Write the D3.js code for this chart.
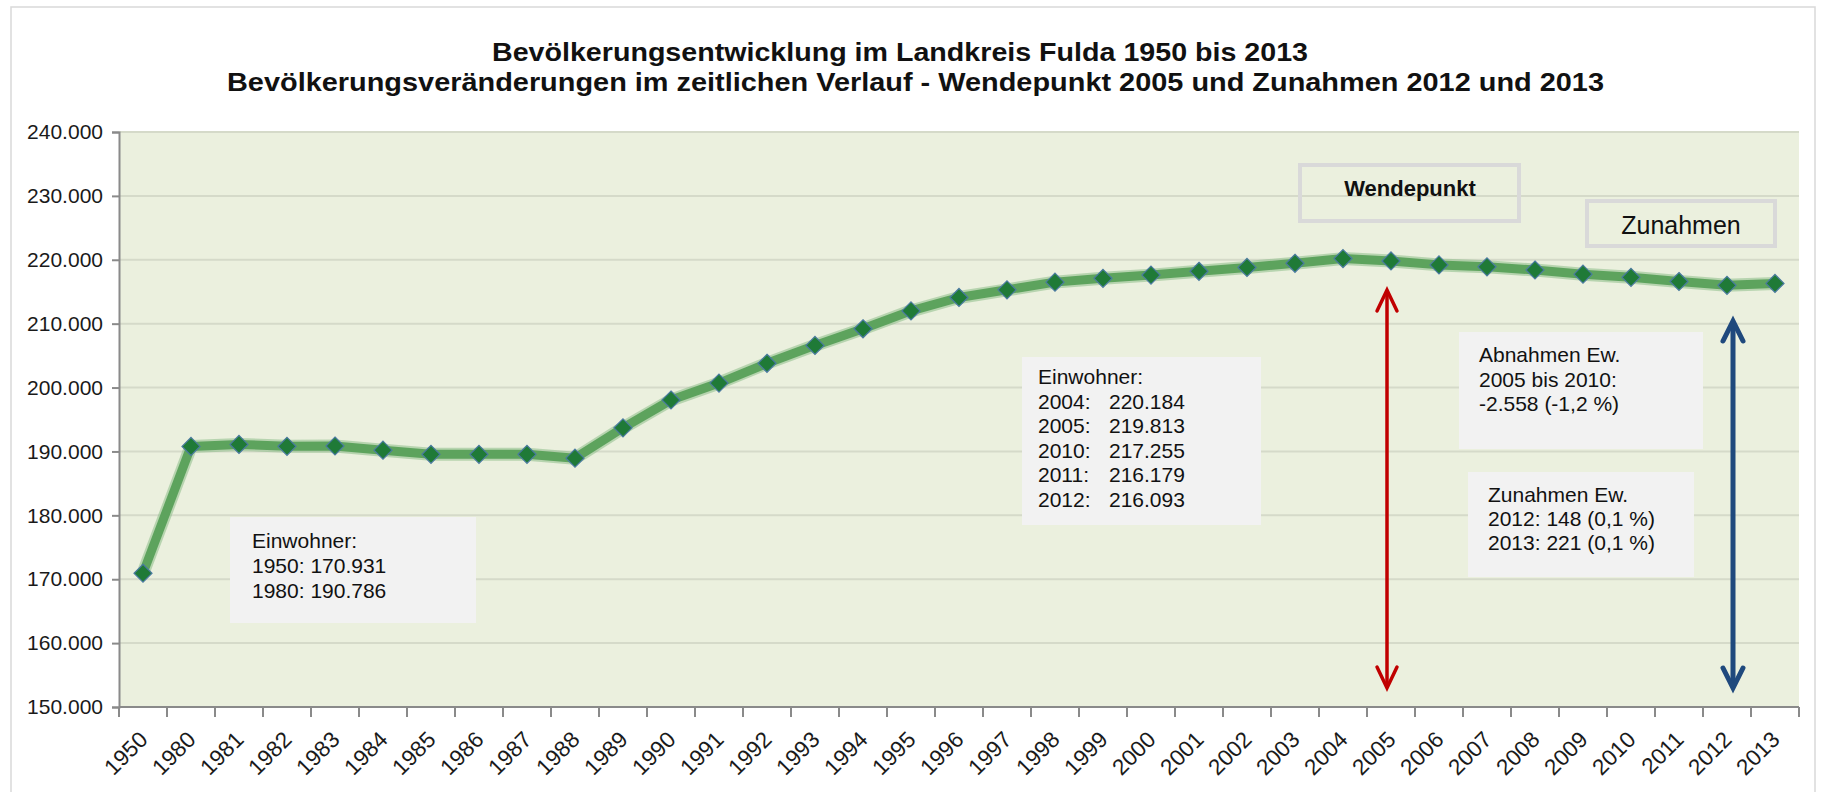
<!DOCTYPE html>
<html>
<head>
<meta charset="utf-8">
<script src="https://cdn.jsdelivr.net/npm/d3@7"></script>
<style>
  body { margin: 0; background: #fff; }
  text { font-family: Arial, "Liberation Sans", sans-serif; }
</style>
</head>
<body>
<div id="chart"></div>
<script>
// Jahre (Kategorien) und Einwohner
const years = ["1950", "1980", "1981", "1982", "1983", "1984", "1985", "1986", "1987", "1988",
  "1989", "1990", "1991", "1992", "1993", "1994", "1995", "1996", "1997", "1998",
  "1999", "2000", "2001", "2002", "2003", "2004", "2005", "2006", "2007", "2008",
  "2009", "2010", "2011", "2012", "2013"];
const population = [170931, 190786, 191100, 190800, 190850, 190200, 189550, 189550, 189550, 188950,
  193700, 198050, 200700, 203800, 206600, 209200, 212000, 214100, 215300, 216500,
  217100, 217600, 218200, 218800, 219450, 220184, 219813, 219200, 218900, 218400,
  217750, 217255, 216600, 216000, 216300];
const yTicks = [150000, 160000, 170000, 180000, 190000, 200000, 210000, 220000, 230000, 240000];

const titleLines = [
  "Bevölkerungsentwicklung im Landkreis Fulda 1950 bis 2013",
  "Bevölkerungsveränderungen im zeitlichen Verlauf - Wendepunkt 2005 und Zunahmen 2012 und 2013"
];
const box1Lines = ["Einwohner:", "1950: 170.931", "1980: 190.786"];
const box2Lines = [["Einwohner:", ""], ["2004:", "220.184"], ["2005:", "219.813"],
  ["2010:", "217.255"], ["2011:", "216.179"], ["2012:", "216.093"]];
const box3Lines = ["Abnahmen Ew.", "2005 bis 2010:", "-2.558 (-1,2 %)"];
const box4Lines = ["Zunahmen Ew.", "2012: 148 (0,1 %)", "2013: 221 (0,1 %)"];

const W = 1823, H = 792;
const margin = { top: 132, right: 24, bottom: 85, left: 119 };

const svg = d3.select("#chart").append("svg")
    .attr("width", W)
    .attr("height", H);

// outer frame
svg.append("rect")
    .attr("x", 11).attr("y", 7)
    .attr("width", 1804).attr("height", 800)
    .attr("fill", "none")
    .attr("stroke", "#d9d9d9")
    .attr("stroke-width", 1.5);

// title
svg.selectAll("text.title")
  .data(titleLines)
  .enter().append("text")
    .attr("class", "title")
    .attr("x", (d, i) => i === 0 ? 492 : 227)
    .attr("y", (d, i) => i === 0 ? 61 : 91)
    .attr("font-size", 25)
    .attr("font-weight", "bold")
    .attr("fill", "#111")
    .attr("textLength", (d, i) => i === 0 ? 816 : 1377)
    .attr("lengthAdjust", "spacingAndGlyphs")
    .text(d => d);

const x = d3.scaleBand()
    .domain(years)
    .range([margin.left, W - margin.right]);

const y = d3.scaleLinear()
    .domain([150000, 240000])
    .range([H - margin.bottom, margin.top]);

// plot area
svg.append("rect")
    .attr("x", margin.left)
    .attr("y", margin.top)
    .attr("width", x.range()[1] - margin.left)
    .attr("height", y(150000) - margin.top)
    .attr("fill", "#ebf0de");

// gridlines
svg.append("g")
  .selectAll("line")
  .data(yTicks.slice(1))
  .enter().append("line")
    .attr("x1", margin.left)
    .attr("x2", x.range()[1])
    .attr("y1", d => y(d))
    .attr("y2", d => y(d))
    .attr("stroke", "#d5dac9")
    .attr("stroke-width", 2);

const fmt = d => d3.format(",")(d).replace(/,/g, ".");

// y axis
const yAxis = svg.append("g")
    .attr("transform", `translate(${margin.left},0)`)
    .call(d3.axisLeft(y).tickValues(yTicks).tickFormat(fmt).tickSize(7).tickPadding(9));
yAxis.select(".domain").attr("stroke", "#8a8a8a").attr("stroke-width", 2);
yAxis.selectAll(".tick line").attr("stroke", "#8a8a8a").attr("stroke-width", 2);
yAxis.selectAll(".tick text")
    .attr("font-size", 21)
    .attr("font-family", "Arial, 'Liberation Sans', sans-serif")
    .attr("fill", "#1a1a1a");

// x axis: ticks on category boundaries
const xAxisG = svg.append("g");
xAxisG.append("line")
    .attr("x1", margin.left).attr("x2", x.range()[1])
    .attr("y1", y(150000)).attr("y2", y(150000))
    .attr("stroke", "#8a8a8a").attr("stroke-width", 2);
const bounds = years.map(d => x(d)).concat([x.range()[1]]);
xAxisG.selectAll("line.tick")
  .data(bounds)
  .enter().append("line")
    .attr("class", "tick")
    .attr("x1", d => d).attr("x2", d => d)
    .attr("y1", y(150000)).attr("y2", y(150000) + 10)
    .attr("stroke", "#8a8a8a").attr("stroke-width", 2);
xAxisG.selectAll("text")
  .data(years)
  .enter().append("text")
    .attr("transform", d => `translate(${x(d) + x.bandwidth() / 2 + 6},${y(150000) + 34}) rotate(-45)`)
    .attr("text-anchor", "end")
    .attr("font-size", 22.5)
    .attr("fill", "#1a1a1a")
    .text(d => d);

// annotation boxes (drawn under the line)
function textBox(bx, by, bw, bh, tx, ty, lines, lh) {
  svg.append("rect")
      .attr("x", bx).attr("y", by).attr("width", bw).attr("height", bh)
      .attr("fill", "#f2f2f2");
  svg.append("g").selectAll("text")
    .data(lines)
    .enter().append("text")
      .attr("x", tx)
      .attr("y", (d, i) => ty + i * lh)
      .attr("font-size", 21)
      .attr("fill", "#111")
      .text(d => d);
}
textBox(230, 517, 246, 106, 252, 548, box1Lines, 25);
textBox(1459, 332, 244, 117, 1479, 362, box3Lines, 24.5);
textBox(1468, 472, 226, 105, 1488, 502, box4Lines, 24);

svg.append("rect")
    .attr("x", 1022).attr("y", 357).attr("width", 239).attr("height", 168)
    .attr("fill", "#f2f2f2");
const b2 = svg.append("g").selectAll("text")
  .data(box2Lines)
  .enter().append("text")
    .attr("y", (d, i) => 384 + i * 24.5)
    .attr("font-size", 21)
    .attr("fill", "#111");
b2.append("tspan").attr("x", 1038).text(d => d[0]);
b2.append("tspan").attr("x", 1109).text(d => d[1]);

// labelled frames
svg.append("rect")
    .attr("x", 1300).attr("y", 165).attr("width", 219).attr("height", 56)
    .attr("fill", "none").attr("stroke", "#d9d9d9").attr("stroke-width", 4);
svg.append("text")
    .attr("x", 1410).attr("y", 196)
    .attr("text-anchor", "middle")
    .attr("font-size", 22)
    .attr("font-weight", "bold")
    .attr("fill", "#111")
    .text("Wendepunkt");
svg.append("rect")
    .attr("x", 1587).attr("y", 201).attr("width", 188).attr("height", 45)
    .attr("fill", "none").attr("stroke", "#d9d9d9").attr("stroke-width", 4);
svg.append("text")
    .attr("x", 1681).attr("y", 234)
    .attr("text-anchor", "middle")
    .attr("font-size", 25)
    .attr("fill", "#111")
    .text("Zunahmen");

// population line
const line = d3.line()
    .x((d, i) => x(years[i]) + x.bandwidth() / 2)
    .y(d => y(d));

svg.append("path")
    .datum(population)
    .attr("d", line)
    .attr("fill", "none")
    .attr("stroke", "#8dbd88")
    .attr("stroke-width", 13)
    .attr("stroke-linejoin", "round")
    .attr("opacity", 0.55);
svg.append("path")
    .datum(population)
    .attr("d", line)
    .attr("fill", "none")
    .attr("stroke", "#5da35d")
    .attr("stroke-width", 9)
    .attr("stroke-linejoin", "round");

svg.append("g").selectAll("path")
  .data(population)
  .enter().append("path")
    .attr("transform", (d, i) => `translate(${x(years[i]) + x.bandwidth() / 2},${y(d)})`)
    .attr("d", "M0,-9L9,0L0,9L-9,0Z")
    .attr("fill", "#1f7a37")
    .attr("stroke", "#4a7aa0")
    .attr("stroke-width", 1.2);

// arrows
const redX = x("2005") + x.bandwidth() / 2 - 4;
const blueX = x("2012") + x.bandwidth() / 2 + 6;
const arrowBottom = y(150000) - 19;

svg.append("line")
    .attr("x1", redX).attr("x2", redX)
    .attr("y1", 290).attr("y2", arrowBottom - 1)
    .attr("stroke", "#c00000").attr("stroke-width", 3.5);
[[290, 1], [arrowBottom, -1]].forEach(([ty, dir]) => {
  svg.append("path")
      .attr("d", `M${redX - 10},${ty + dir * 21}L${redX},${ty}L${redX + 10},${ty + dir * 21}`)
      .attr("fill", "none").attr("stroke", "#c00000").attr("stroke-width", 3.5)
      .attr("stroke-linecap", "round").attr("stroke-linejoin", "miter");
});

svg.append("line")
    .attr("x1", blueX).attr("x2", blueX)
    .attr("y1", 324).attr("y2", arrowBottom - 4)
    .attr("stroke", "#1f497d").attr("stroke-width", 5);
[[321, 1], [arrowBottom, -1]].forEach(([ty, dir]) => {
  svg.append("path")
      .attr("d", `M${blueX - 10},${ty + dir * 20}L${blueX},${ty}L${blueX + 10},${ty + dir * 20}`)
      .attr("fill", "none").attr("stroke", "#1f497d").attr("stroke-width", 5)
      .attr("stroke-linecap", "round").attr("stroke-linejoin", "miter");
});
</script>
</body>
</html>
